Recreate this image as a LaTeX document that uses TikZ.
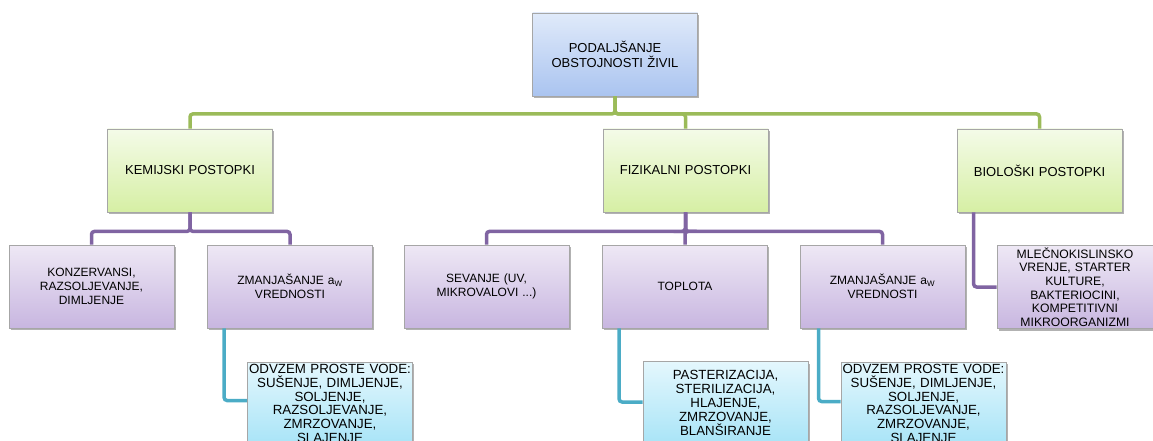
\documentclass[tikz,border=0pt]{standalone}
\usepackage{fontspec}
\setmainfont{Liberation Sans}
\usetikzlibrary{positioning,shadows}

\definecolor{toptop}{HTML}{E0EAFA}
\definecolor{topbot}{HTML}{AAC4F0}
\definecolor{grntop}{HTML}{F4FBE8}
\definecolor{grnbot}{HTML}{D6EFA4}
\definecolor{purtop}{HTML}{EEE8F5}
\definecolor{purbot}{HTML}{C8B6E0}
\definecolor{cyntop}{HTML}{E4F7FD}
\definecolor{cynbot}{HTML}{A8E4F7}
\definecolor{grnline}{HTML}{9BBB59}
\definecolor{purline}{HTML}{8064A2}
\definecolor{cynline}{HTML}{4BACC6}

\begin{document}
\begin{tikzpicture}[
  x=1pt, y=-1pt,
  box/.style={draw=gray!70, line width=0.8pt, minimum width=165pt, minimum height=83pt,
    inner sep=0pt, text width=163pt, align=center,
    drop shadow={shadow xshift=1.5pt, shadow yshift=-2pt, opacity=0.3, fill=black}},
  rootbox/.style={box, top color=toptop, bottom color=topbot, font=\fontsize{13}{15}\selectfont},
  grpbox/.style={box, top color=grntop, bottom color=grnbot, font=\fontsize{13}{15}\selectfont},
  subbox/.style={box, top color=purtop, bottom color=purbot, font=\fontsize{12}{14}\selectfont},
  leafbox/.style={box, top color=cyntop, bottom color=cynbot, font=\fontsize{13.3}{13.8}\selectfont},
  grnlink/.style={draw=grnline, line width=3.5pt, rounded corners=3pt},
  purlink/.style={draw=purline, line width=3.5pt, rounded corners=3pt},
  cynlink/.style={draw=cynline, line width=3.5pt, rounded corners=3pt}
]
  \useasboundingbox (0,0) rectangle (1153,441);
  \clip (0,0) rectangle (1153,441);

  \node[rootbox] (root) at (615,54.5) {PODALJŠANJE\\OBSTOJNOSTI ŽIVIL};

  \node[grpbox] (kem) at (190,170.5) {KEMIJSKI POSTOPKI};
  \node[grpbox] (fiz) at (685.5,170.5) {FIZIKALNI POSTOPKI};
  \node[grpbox] (bio) at (1039.5,170.5) {BIOLOŠKI POSTOPKI};

  \node[subbox] (konz) at (91.5,286.5) {KONZERVANSI,\\RAZSOLJEVANJE,\\DIMLJENJE};
  \node[subbox] (zmA) at (290,286.5) {ZMANJAŠANJE a\textsubscript{W}\\VREDNOSTI};
  \node[subbox] (sev) at (486.5,286.5) {SEVANJE (UV,\\MIKROVALOVI ...)};
  \node[subbox] (topl) at (685,286.5) {TOPLOTA};
  \node[subbox] (zmB) at (882.5,286.5) {ZMANJAŠANJE a\textsubscript{W}\\VREDNOSTI};
  \node[subbox, minimum width=156pt, text width=154pt, font=\fontsize{12.2}{13.6}\selectfont] (mlec) at (1075,287)
    {MLEČNOKISLINSKO\\VRENJE, STARTER\\KULTURE,\\BAKTERIOCINI,\\KOMPETITIVNI\\MIKROORGANIZMI};

  \node[leafbox] (odvA) at (330,403.5) {ODVZEM PROSTE VODE:\\SUŠENJE, DIMLJENJE,\\SOLJENJE,\\RAZSOLJEVANJE,\\ZMRZOVANJE,\\SLAJENJE};
  \node[leafbox] (past) at (725.5,403) {PASTERIZACIJA,\\STERILIZACIJA,\\HLAJENJE,\\ZMRZOVANJE,\\BLANŠIRANJE};
  \node[leafbox] (odvB) at (923.5,403.5) {ODVZEM PROSTE VODE:\\SUŠENJE, DIMLJENJE,\\SOLJENJE,\\RAZSOLJEVANJE,\\ZMRZOVANJE,\\SLAJENJE};

  \draw[grnlink] (root.south) -- ++(0,17.5) -| (kem.north);
  \draw[grnlink] (root.south) -- ++(0,17.5) -| (fiz.north);
  \draw[grnlink] (root.south) -- ++(0,17.5) -| (bio.north);

  \draw[purlink] (kem.south) -- ++(0,19) -| (konz.north);
  \draw[purlink] (kem.south) -- ++(0,19) -| (zmA.north);
  \draw[purlink] (fiz.south) -- ++(0,19) -| (sev.north);
  \draw[purlink] (fiz.south) -- ++(0,19) -| (topl.north);
  \draw[purlink] (fiz.south) -- ++(0,19) -| (zmB.north);
  \draw[purlink] ([xshift=17pt]bio.south west) |- (mlec.west);

  \draw[cynlink] ([xshift=17pt]zmA.south west) |- ([yshift=3pt]odvA.west);
  \draw[cynlink] ([xshift=17pt]topl.south west) |- ([yshift=1pt]past.west);
  \draw[cynlink] ([xshift=19pt]zmB.south west) |- ([yshift=2pt]odvB.west);
\end{tikzpicture}
\end{document}
